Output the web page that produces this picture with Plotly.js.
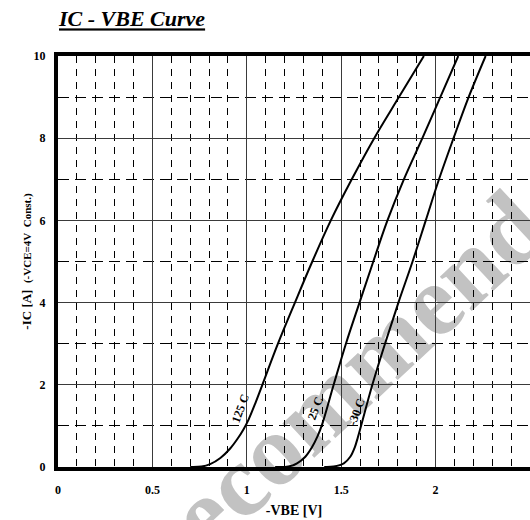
<!DOCTYPE html>
<html>
<head>
<meta charset="utf-8">
<script src="https://cdn.plot.ly/plotly-3.0.1.min.js"></script>
<style>html,body{margin:0;padding:0;background:#fff;}#chart{width:530px;height:520px;}</style>
</head>
<body>
<div id="chart"></div>
<script>
// -VBE [V] and -IC [A]
const vbe125 = [0.70, 0.76, 0.806, 0.86, 0.912, 0.95, 0.983, 1.01, 1.045, 1.08, 1.165, 1.255, 1.347, 1.445, 1.556, 1.675, 1.806, 1.938];
const ic125  = [0.00, 0.01, 0.07, 0.22, 0.45, 0.68, 0.92, 1.16, 1.55, 1.97, 3.00, 4.00, 5.00, 6.00, 7.00, 8.00, 9.00, 10.0];
const vbe25  = [1.15, 1.22, 1.266, 1.31, 1.345, 1.375, 1.40, 1.46, 1.525, 1.597, 1.67, 1.745, 1.832, 1.93, 2.025, 2.12];
const ic25   = [0.00, 0.01, 0.09, 0.25, 0.48, 0.75, 1.05, 2.00, 3.00, 4.00, 5.00, 6.00, 7.00, 8.00, 9.00, 10.0];
const vbeM30 = [1.41, 1.46, 1.514, 1.548, 1.572, 1.588, 1.605, 1.665, 1.732, 1.803, 1.878, 1.948, 2.018, 2.095, 2.175, 2.265];
const icM30  = [0.00, 0.01, 0.09, 0.25, 0.48, 0.72, 1.00, 2.00, 3.00, 4.00, 5.00, 6.00, 7.00, 8.00, 9.00, 10.0];
const seriesNames = ['125 C', '25 C', '-30 C'];
const xTickVals = [0, 0.5, 1, 1.5, 2, 2.5];
const xTickText = ['0', '0.5', '1', '1.5', '2', '2.5'];
const yTickVals = [0, 2, 4, 6, 8, 10];
const yTickText = ['0', '2', '4', '6', '8', '10'];

const serif = 'Liberation Serif, Times New Roman, serif';
const lineStyle = {color: '#000', width: 2, shape: 'spline', smoothing: 1};

const traces = [
  {x: vbe125, y: ic125, name: seriesNames[0], mode: 'lines', line: lineStyle, hoverinfo: 'skip'},
  {x: vbe25, y: ic25, name: seriesNames[1], mode: 'lines', line: lineStyle, hoverinfo: 'skip'},
  {x: vbeM30, y: icM30, name: seriesNames[2], mode: 'lines', line: lineStyle, hoverinfo: 'skip'}
];

const labelFont = {family: serif, size: 12, color: '#000', weight: 'bold'};
function curveLabel(text, x, y) {
  return {text: text, x: x, y: y, xref: 'x', yref: 'y', showarrow: false, textangle: -70, font: labelFont};
}

const layout = {
  width: 530, height: 520,
  margin: {l: 58, r: 0, t: 56, b: 53},
  paper_bgcolor: '#fff',
  plot_bgcolor: 'rgba(0,0,0,0)',
  showlegend: false,
  title: {
    text: 'IC - VBE Curve',
    x: 0, xref: 'paper', xanchor: 'left',
    y: 1, yref: 'container', yanchor: 'top', pad: {t: 11, l: 1},
    font: {family: serif, size: 22, color: '#000', weight: 'bold', style: 'italic', lineposition: 'under'}
  },
  xaxis: {
    range: [0, 2.5], tickvals: xTickVals, ticktext: xTickText,
    showgrid: true, gridcolor: '#3a3a3a', gridwidth: 1,
    minor: {dtick: 0.1, showgrid: true, gridcolor: '#000', gridwidth: 1, griddash: '7px,6px'},
    zeroline: false, showline: true, linecolor: '#000', linewidth: 4, mirror: true,
    ticks: 'outside', ticklen: 9, tickcolor: 'rgba(0,0,0,0)',
    tickfont: {family: serif, size: 12, color: '#000', weight: 'bold'},
    title: {text: '-VBE [V]', standoff: 10, font: {family: serif, size: 14, color: '#000', weight: 'bold'}},
    fixedrange: true
  },
  yaxis: {
    range: [0, 10], tickvals: yTickVals, ticktext: yTickText,
    showgrid: true, gridcolor: '#3a3a3a', gridwidth: 1,
    minor: {dtick: 1, showgrid: true, gridcolor: '#000', gridwidth: 1, griddash: '11px,6px'},
    zeroline: false, showline: true, linecolor: '#000', linewidth: 4, mirror: false,
    ticks: 'outside', ticklen: 6, tickcolor: 'rgba(0,0,0,0)',
    tickfont: {family: serif, size: 12, color: '#000', weight: 'bold'},
    title: {text: '-IC [A]\u00a0\u00a0<span style="font-size:11px">(-VCE=4V\u00a0\u00a0Const.)</span>', standoff: 0,
            font: {family: serif, size: 13, color: '#000', weight: 'bold'}},
    fixedrange: true
  },
  annotations: [
    curveLabel(seriesNames[0], 0.966, 1.44),
    curveLabel(seriesNames[1], 1.363, 1.44),
    curveLabel(seriesNames[2], 1.579, 1.35)
  ],
  shapes: [{
    type: 'rect', xref: 'paper', yref: 'paper', layer: 'below',
    x0: 0.63, x1: 0.65, y0: 0.268, y1: 0.288,
    line: {width: 0, color: 'rgba(0,0,0,0)'}, fillcolor: 'rgba(0,0,0,0)',
    label: {text: 'Recommended', textangle: -43, textposition: 'middle center',
            font: {family: serif, size: 102, color: '#c2c2c2', weight: 'bold'}}
  }]
};

Plotly.newPlot('chart', traces, layout, {staticPlot: true, displayModeBar: false});
</script>
</body>
</html>
